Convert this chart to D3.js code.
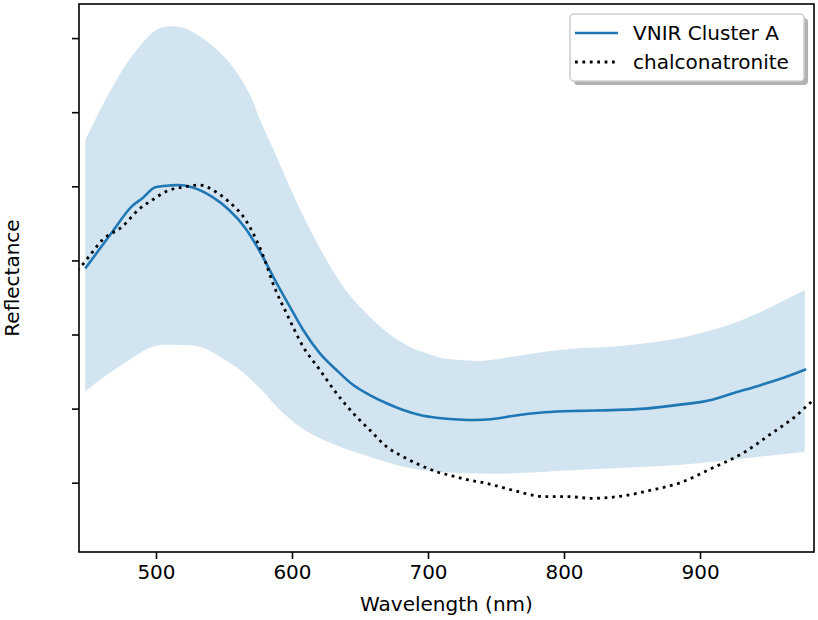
<!DOCTYPE html>
<html>
<head>
<meta charset="utf-8">
<script src="https://cdn.jsdelivr.net/npm/d3@7"></script>
<style>
  html, body { margin: 0; padding: 0; background: #fff; }
  text { font-family: "DejaVu Sans", sans-serif; }
</style>
</head>
<body>
<svg id="chart" width="818" height="620"></svg>
<script>
// ---- data ----
const seriesNames = ["VNIR Cluster A", "chalconatronite"];
const xTicks = [500, 600, 700, 800, 900];
const yTicks = [0.1, 0.2, 0.3, 0.4, 0.5, 0.6, 0.7];

// spread band (upper / lower edges)
const upperWavelength = [448,460,470,480,490,500,510,520,530,540,550,560,570,576.4,588.7,600.9,613.1,625.4,637.6,649.9,662.1,674.3,686.6,698.9,711.1,723.3,740,762,786,811,835,860,884,909,923,945,965,977];
const upperValue = [0.562,0.607,0.640,0.670,0.693,0.711,0.716,0.714,0.705,0.692,0.675,0.652,0.620,0.590,0.540,0.489,0.442,0.4004,0.3645,0.3375,0.3151,0.297,0.2835,0.2746,0.2679,0.2656,0.2645,0.270,0.2768,0.2814,0.2835,0.2881,0.2949,0.3061,0.3142,0.3308,0.3489,0.360];
const lowerWavelength = [448,458.7,478.3,497.8,517.6,532.3,547,561.7,576.4,591.1,605.8,620.5,635.2,657.2,681.7,706.2,730.7,755,786.4,835.3,884.2,933.2,977];
const lowerValue = [0.2228,0.2386,0.2633,0.2835,0.2858,0.2835,0.270,0.2521,0.2274,0.1981,0.1756,0.1599,0.1486,0.1351,0.1216,0.1148,0.1127,0.112,0.1148,0.1194,0.1239,0.1329,0.1418];

// mean spectrum (VNIR Cluster A)
const meanWavelength = [448,458,468,482,490,499.6,510,516.7,526.4,541.1,553.4,565.6,577.8,587.4,598.4,608.2,620.5,632.7,645,657.2,669.5,681.7,694,706.2,718.4,730.7,740,752,762,786,811,835,860,884,909,923,945,965,978];
const meanValue = [0.389,0.414,0.4387,0.4725,0.484,0.4987,0.501,0.5018,0.4987,0.486,0.4687,0.4438,0.4073,0.3736,0.3375,0.3061,0.2746,0.2521,0.2318,0.2183,0.2072,0.1981,0.1914,0.1877,0.1856,0.1846,0.185,0.187,0.190,0.195,0.197,0.198,0.200,0.205,0.212,0.220,0.232,0.244,0.253];

// reference spectrum (chalconatronite)
const refWavelength = [438,443.4,450.7,460.5,475.2,487.5,497.3,507.1,521.8,531.6,543.8,553.6,565.9,578.1,587.4,596,608.2,620.5,632.7,645,657.2,669.5,681.7,694,706.2,718.4,730,740,752,761.9,786.4,803.5,820.6,842.6,864.6,884.2,908.7,933.2,952.7,969.9,982.1,992];
const refValue = [0.380,0.389,0.405,0.4275,0.4455,0.469,0.4815,0.4927,0.4995,0.5018,0.4927,0.4792,0.4545,0.4096,0.3623,0.3286,0.2835,0.2521,0.2207,0.1937,0.1712,0.1486,0.1351,0.1239,0.1148,0.109,0.1036,0.1003,0.0949,0.0901,0.0811,0.0811,0.0789,0.082,0.0901,0.0992,0.1194,0.1418,0.1667,0.1891,0.2093,0.222];

// ---- layout ----
const svg = d3.select("#chart");
const pL = 79, pR = 814, pT = 4, pB = 552;
const x = d3.scaleLinear().domain([443.4, 983.8]).range([pL, pR]);
const y = d3.scaleLinear().domain([0.0065, 0.746]).range([pB, pT]);
const blue = "#1f77b4";

svg.append("clipPath").attr("id", "clip")
  .append("rect").attr("x", pL).attr("y", pT).attr("width", pR - pL).attr("height", pB - pT);

const plot = svg.append("g").attr("clip-path", "url(#clip)");

const upperData = upperWavelength.map((w, i) => ({w, v: upperValue[i]}));
const lowerData = lowerWavelength.map((w, i) => ({w, v: lowerValue[i]})).reverse();
const edge = d3.line().x(d => x(d.w)).y(d => y(d.v)).curve(d3.curveCatmullRom.alpha(0.5));
const bandPath = edge(upperData) + edge(lowerData).replace(/^M/, "L") + "Z";
plot.append("path")
  .attr("fill", blue).attr("fill-opacity", 0.2).attr("stroke", "none")
  .attr("d", bandPath);

const meanData = meanWavelength.map((w, i) => ({w, v: meanValue[i]}));
plot.append("path")
  .datum(meanData)
  .attr("fill", "none").attr("stroke", blue).attr("stroke-width", 2.6)
  .attr("d", d3.line().x(d => x(d.w)).y(d => y(d.v)).curve(d3.curveMonotoneX));

const refData = refWavelength.map((w, i) => ({w, v: refValue[i]}));
plot.append("path")
  .datum(refData)
  .attr("fill", "none").attr("stroke", "#000").attr("stroke-width", 2.8)
  .attr("stroke-dasharray", "2.8,4.6")
  .attr("d", d3.line().x(d => x(d.w)).y(d => y(d.v)).curve(d3.curveMonotoneX));

// ---- axes ----
const xAxis = svg.append("g").attr("transform", `translate(0,${pB})`)
  .call(d3.axisBottom(x).tickValues(xTicks).tickSize(7).tickPadding(6).tickFormat(d3.format("d")));
xAxis.select(".domain").remove();
xAxis.selectAll("line").attr("stroke", "#000").attr("stroke-width", 1.6);
xAxis.selectAll("text").attr("font-size", 20).attr("fill", "#000").attr("font-family", "DejaVu Sans");

const yAxis = svg.append("g").attr("transform", `translate(${pL},0)`)
  .call(d3.axisLeft(y).tickValues(yTicks).tickSize(7).tickFormat(""));
yAxis.select(".domain").remove();
yAxis.selectAll("line").attr("stroke", "#000").attr("stroke-width", 1.6);

svg.append("rect").attr("x", pL).attr("y", pT).attr("width", pR - pL).attr("height", pB - pT)
  .attr("fill", "none").attr("stroke", "#000").attr("stroke-width", 1.6);

svg.append("text").attr("x", (pL + pR) / 2).attr("y", 611)
  .attr("text-anchor", "middle").attr("font-size", 20).attr("fill", "#000")
  .text("Wavelength (nm)");

svg.append("text").attr("transform", `translate(19,${(pT + pB) / 2}) rotate(-90)`)
  .attr("text-anchor", "middle").attr("font-size", 20).attr("fill", "#000")
  .text("Reflectance");

// ---- legend ----
const lg = svg.append("g");
lg.append("rect").attr("x", 574).attr("y", 18).attr("width", 234).attr("height", 67).attr("rx", 4)
  .attr("fill", "#000").attr("fill-opacity", 0.3);
lg.append("rect").attr("x", 570).attr("y", 14).attr("width", 234).attr("height", 67).attr("rx", 4)
  .attr("fill", "#fff").attr("stroke", "#d0d0d0").attr("stroke-width", 1.6);
const rows = [{name: seriesNames[0], yc: 33, color: blue, dash: null, w: 2.6},
              {name: seriesNames[1], yc: 62, color: "#000", dash: "2.8,4.6", w: 2.8}];
rows.forEach(r => {
  lg.append("line").attr("x1", 575).attr("x2", 618).attr("y1", r.yc).attr("y2", r.yc)
    .attr("stroke", r.color).attr("stroke-width", r.w).attr("stroke-dasharray", r.dash);
  lg.append("text").attr("x", 633).attr("y", r.yc + 7).attr("font-size", 20).attr("fill", "#000").text(r.name);
});
</script>
</body>
</html>
